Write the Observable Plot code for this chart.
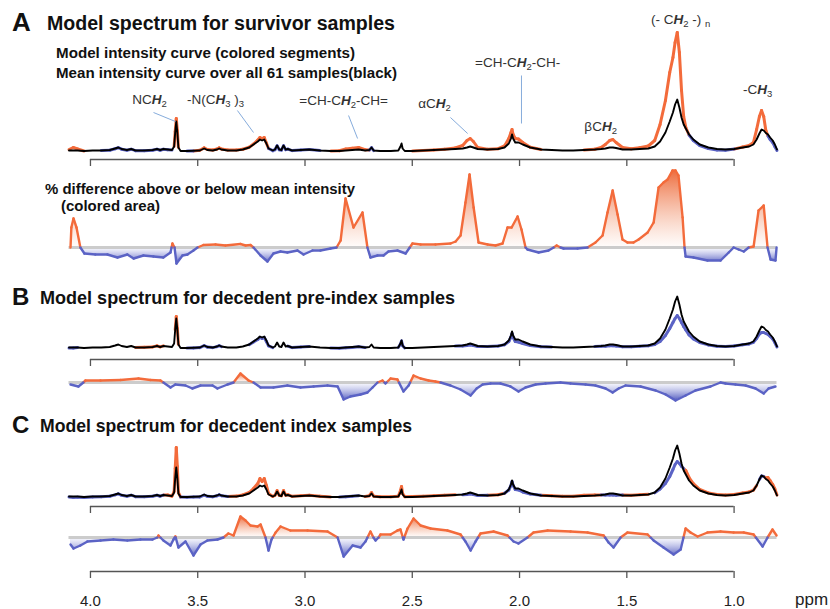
<!DOCTYPE html>
<html><head><meta charset="utf-8">
<script src="https://cdn.jsdelivr.net/npm/d3@7"></script>
<script src="https://cdn.jsdelivr.net/npm/@observablehq/plot@0.6"></script>
<style>
html,body{margin:0;padding:0;background:#fff;}
#chart{position:relative;width:830px;height:609px;overflow:hidden;font-family:"Liberation Sans",Arial,sans-serif;background:#fff;}
#chart > svg{position:absolute;left:0;}
</style></head><body><div id="chart"></div>
<script>
const ORANGE = "#f36b3b", BLUE = "#5b63c5";

// ---------- spectra (shared ppm grid) ----------
const ppm = [4.10,4.08,4.06,4.03,3.99,3.95,3.91,3.885,3.87,3.855,
 3.83,3.81,3.79,3.75,3.71,3.69,3.675,3.66,3.64,3.62,
 3.61,3.605,3.60,3.595,3.59,3.58,3.55,3.52,3.49,3.47,
 3.455,3.43,3.41,3.40,3.39,3.36,3.32,3.29,3.26,3.24,
 3.22,3.21,3.20,3.19,3.18,3.17,3.15,3.14,3.13,3.12,
 3.11,3.10,3.09,3.08,3.06,3.02,2.98,2.93,2.88,2.84,
 2.81,2.78,2.75,2.72,2.70,2.69,2.68,2.65,2.60,2.565,
 2.555,2.55,2.545,2.535,2.50,2.45,2.40,2.35,2.30,2.265,
 2.245,2.23,2.215,2.195,2.15,2.10,2.07,2.05,2.04,2.035,
 2.03,2.02,2.005,1.985,1.95,1.90,1.85,1.80,1.75,1.70,
 1.65,1.62,1.60,1.58,1.565,1.55,1.52,1.48,1.44,1.40,
 1.37,1.345,1.32,1.30,1.285,1.275,1.265,1.255,1.245,1.235,
 1.225,1.21,1.19,1.16,1.12,1.08,1.04,1.00,0.96,0.93,
 0.91,0.895,0.882,0.872,0.862,0.852,0.842,0.832,0.82,0.81,
 0.80];
const meanIntensity = [2,2,2,1.5,2,2,2.5,4,5,3.5,
 2.5,3.5,2,2,2.5,3.5,2.5,3.5,3,2.5,
 6,20,31,20,5,1.5,1.5,1.7,2,4,
 2.5,2,3,4,3,2,2,3,5,8,
 11,13,12,13,9,4,2,3,7,3,
 2.5,7,3,3.5,2,2.5,3,2,1.5,1.5,
 2,2.5,3,2,2.5,5,2,1.5,1.5,2,
 6,9,4,1.5,1.5,2,2.5,3,3.5,4,
 5,6,5,3.5,3,3.5,5,9,14,18,
 14,10,10,8,5,3,2.5,2,2,2.5,
 3,3.5,4,5,5,4.5,3,3,3.5,4,
 6,11,20,31,40,48,53,45,35,28,
 24,18,13,8,5,3.5,3,3.5,5,6,
 8,13,19,23,22,19.5,18,15,12,8,
 3];
const modelA = [3,5,3.5,1.5,2,2,2.3,3.8,4.8,3.3,
 2.3,3.3,1.8,1.8,2.3,3.3,2.3,3.3,2.8,2.4,
 6,21,34,22,5,1.5,1.4,1.6,2.3,4.6,
 3,2.5,3.5,4.6,3.5,2.5,2.4,3.3,5.3,8.5,
 12.5,15,14,15,9.5,4,1.8,2.8,6.8,2.8,
 2.4,6.8,2.9,3.4,1.9,2.4,2.9,1.9,1.5,1.8,
 3.5,4.2,5,2.8,2.4,4.8,1.9,1.5,1.5,2,
 6,9,4,1.5,1.6,2.1,2.6,3.2,4.5,7,
 12,14,11,5,3.3,3.8,6.5,14,20,23,
 18,14,13.5,10,5.3,3,2.5,2,2,2.6,
 3.3,5,8,12,13,10,5,3.8,4.8,6.5,
 12,28,52,80,95,110,120,100,62,36,
 25,17.5,12,7,4,2.6,2.3,3.4,5.5,7,
 10,23,36,42,36,22,16.5,13,10,6,
 2];
const modelB = [1.5,1.5,2,1.5,2,2,2.5,4,5,3.5,
 2.5,3.5,2,2.2,2.6,3.6,2.6,3.6,3,2.5,
 6,20,33,21,5,1.5,1.4,1.6,1.9,3.8,
 2.4,1.9,2.9,3.8,2.9,2,2,3.1,4.8,7.5,
 10,12,11,12,8,3.7,1.9,3,7,3,
 2.5,7,3,3.4,1.9,2.4,2.9,2,1.5,1.3,
 1.7,2.1,2.7,2,2.4,5,2,1.5,1.5,2,
 5.5,8.5,3.8,1.5,1.5,2,2.5,3,3.4,3.6,
 4,4.5,4,3,2.9,3.4,4.8,8,12.5,16,
 12,8,7.5,6,4,2.8,2.5,2,2,2.5,
 3,3.2,3.3,3.8,3.8,3.5,2.7,2.8,3.3,3.7,
 5,8,14,21,27,31,34,31,27,23,
 19.5,14.5,10.5,7,4.6,3.3,2.9,3.4,4.8,5.6,
 7.2,11,15.5,17,17,16,15,13,10.5,7,
 2.5];
const modelC = [1.5,1,1.2,1,1.6,1.7,2.2,3.6,4.6,3.2,
 2.3,3.3,1.8,1.8,2.3,3.3,2.3,3.4,3.5,2.3,
 7,30,51,32,6,1.5,1.3,1.4,1.6,3.3,
 2.2,1.8,2.7,3.6,2.8,2,2.4,3.6,6,10,
 15,20,17,20,13,5,2,3.2,8,3.2,
 2.7,8,3.3,3.8,2.2,2.8,3.2,2.2,1.6,1.4,
 1.7,2.3,2.8,2.1,2.8,6,2.3,1.7,1.7,2.3,
 8,12,5,1.8,1.9,2.3,2.8,3.3,3.7,3.7,
 4,4.5,4,3,3.2,3.7,5.2,8.5,13,17,
 13,9,8.5,6.5,4.5,3.3,2.8,2.3,2.3,3.2,
 3.5,3.6,3.4,3.5,3.4,3.3,3.4,3.3,3.8,4.3,
 5.6,9.5,15,22,29,34,37,35,32,30,
 28,21,15,9,5.6,4,3.5,4,5.5,6.6,
 8.3,13,19,22.5,22,20.5,21,18,14,9.5,
 3.5];

// ---------- % difference curves ----------
const diffPpmA = [4.093,4.089,4.079,4.065,4.047,4.028,3.977,3.921,3.874,3.828,3.799,3.753,3.706,3.660,3.627,3.618,3.608,3.599,3.571,3.548,3.520,3.501,3.473,3.417,3.371,3.301,3.277,3.254,3.240,3.207,3.175,3.147,3.114,3.082,3.035,3.007,2.965,2.928,2.881,2.853,2.834,2.811,2.774,2.732,2.709,2.695,2.662,2.634,2.611,2.569,2.531,2.499,2.461,2.392,2.322,2.298,2.275,2.252,2.233,2.214,2.191,2.149,2.112,2.079,2.056,2.037,2.009,1.991,1.972,1.963,1.911,1.865,1.841,1.827,1.809,1.795,1.730,1.683,1.646,1.613,1.590,1.566,1.543,1.520,1.497,1.469,1.445,1.403,1.375,1.352,1.329,1.310,1.287,1.273,1.259,1.240,1.231,1.226,1.189,1.124,1.063,1.025,1.002,0.979,0.955,0.932,0.909,0.886,0.862,0.844,0.830,0.807,0.802];
const diffA = [0,20,29,20,0,-6,-7,-7,-10,-7,-11,-8,-9,-10,-5,4,0,-16,-8,-7,-3,0,2.5,3,2,3.5,2,2.5,0,-8,-14,-6,-4,-5,-3,-7,-3,-3,-1,0,7,49,20,35,0,-10,-8,-8,-4,-3,-6,4,3,3,4,6,12,45,73,40,5,3,2,4,20,20,31,18,0,-2,-5,-3,0,2,0,-1,-1,0,5,12,35,57,33,8,5,5,8,15,25,60,65,68,77,77,72,30,0,-9,-10,-13,-13,-5,0,-2,-4,0,1,37,42,0,-12,-13,0];
const diffPpmB = [4.093,4.056,4.033,4.023,3.953,3.860,3.776,3.720,3.674,3.660,3.627,3.604,3.557,3.525,3.487,3.431,3.408,3.361,3.333,3.301,3.263,3.240,3.207,3.147,3.082,3.021,2.960,2.895,2.848,2.820,2.788,2.741,2.709,2.685,2.662,2.639,2.625,2.601,2.569,2.541,2.517,2.494,2.461,2.424,2.392,2.368,2.322,2.275,2.228,2.200,2.172,2.135,2.089,2.042,2.005,1.972,1.925,1.879,1.809,1.762,1.692,1.646,1.599,1.566,1.538,1.506,1.436,1.366,1.319,1.273,1.226,1.180,1.110,1.063,1.040,0.993,0.946,0.900,0.862,0.839,0.807];
const diffB = [-2,-4,0,2,2,2.5,4,2.5,2,0,-5,-2,-3,-6,-3,-3,-6,-2,0,9,2,0,-5,-5,-3,-5,-4,-3,-4,-17,-14,-12,-10,-5,0,2,-1,4,3,-9,-3,7,4,2,1,0,-3,-7,-13,-6,-2,-1,-1,-4,-9,-5,-2,-1,0,-1,-2,-3,-6,-10,-6,-3,-4,-8,-12,-18,-13,-8,-4,0,-1,-2,-3,-6,-11,-6,-4];
const diffPpmC = [4.093,4.079,4.047,4.014,3.953,3.893,3.828,3.767,3.711,3.688,3.683,3.674,3.660,3.627,3.613,3.604,3.590,3.557,3.520,3.487,3.455,3.408,3.380,3.357,3.333,3.301,3.277,3.254,3.221,3.207,3.184,3.170,3.156,3.137,3.114,3.068,2.988,2.895,2.848,2.820,2.778,2.741,2.718,2.695,2.681,2.671,2.657,2.648,2.601,2.569,2.555,2.541,2.522,2.494,2.461,2.415,2.336,2.275,2.252,2.228,2.205,2.182,2.121,2.056,2.028,2.005,1.963,1.935,1.869,1.762,1.683,1.608,1.585,1.562,1.529,1.497,1.403,1.375,1.329,1.282,1.249,1.226,1.203,1.170,1.124,1.063,1.002,0.955,0.909,0.867,0.844,0.821,0.802];
const diffC = [-7,-11,-8,-4,-3,-2,-3,-2,-2,0,2,0,-3,-8,-2,1,-10,-4,-18,-7,-3,-2,0,4,2,21,17,12,11,13,0,-13,-2,5,11,7,7,6,0,-19,-8,-10,-4,6,0,-3,0,3,3,7,8,-2,9,19,12,9,7,3,-4,-13,-4,4,6,2,-4,-6,0,5,7,6,5,2,-5,-10,0,5,3,-3,-10,-17,-12,9,5,1,5,6,5,5,3,-9,0,8,2];

// ---------- axis ticks ----------
const axisTicks = [4.0, 3.5, 3.0, 2.5, 2.0, 1.5, 1.0];

// ---------- peak annotations (panel A) ----------
const annLabels = ["NC{H}_2", "-N(C{H}_3 )_3", "=CH-C{H}_2-CH=", "\u03b1C{H}_2", "=CH-C{H}_2-CH-", "\u03b2C{H}_2", "(- C{H}_2 -) _n", "-C{H}_3"];
const annPpm = [3.725, 3.417, 2.820, 2.396, 2.009, 1.622, 1.249, 0.890];
const annHeight = [53, 53, 52, 49, 90, 26, 133, 63];
const leadPpm1 = [3.706, 3.315, 2.797, 2.322, 1.991];
const leadH1 = [40, 42, 37, 35, 77];
const leadPpm2 = [3.604, 3.240, 2.755, 2.242, 1.991];
const leadH2 = [31, 20, 14, 19, 29];

[modelA, modelB, modelC, meanIntensity].forEach(a => console.assert(a.length === ppm.length, "len", a.length));
console.assert(diffA.length === diffPpmA.length && diffB.length === diffPpmB.length && diffC.length === diffPpmC.length, "diff len");

const W = 830, ML = 68.5, MR = 53.5;
const XDOM = [4.1, 0.8];
const STYLE = {background: "transparent", overflow: "visible", fontFamily: "'Liberation Sans', Arial, sans-serif"};
const chart = document.getElementById("chart");

function place(svg, top) { svg.style.position = "absolute"; svg.style.top = top + "px"; svg.style.left = "0px"; chart.appendChild(svg); return svg; }

function specSegments(model) {
  const pos = [], neg = [];
  for (let i = 0; i < ppm.length - 1; i++) {
    const d = (model[i] + model[i + 1]) - (meanIntensity[i] + meanIntensity[i + 1]);
    const s = {x1: ppm[i], y1: model[i], x2: ppm[i + 1], y2: model[i + 1]};
    if (d > 0.15) pos.push(s); else if (d < -0.15) neg.push(s);
  }
  return {pos, neg};
}

function spectrumPlot(model, cfg, extra = []) {
  const idx = d3.range(ppm.length);
  const {pos, neg} = specSegments(model);
  const height = cfg.base + cfg.gap + 12;
  return Plot.plot({
    width: W, height, marginLeft: ML, marginRight: MR, marginTop: 0, marginBottom: 12,
    x: {domain: XDOM}, y: {domain: [-cfg.gap, cfg.base], axis: null},
    style: STYLE,
    marks: [
      Plot.link(pos, {x1: "x1", y1: "y1", x2: "x2", y2: "y2", stroke: ORANGE, strokeWidth: 3, strokeLinecap: "round"}),
      Plot.link(neg, {x1: "x1", y1: "y1", x2: "x2", y2: "y2", stroke: BLUE, strokeWidth: 3, strokeLinecap: "round"}),
      Plot.line(idx, {x: i => ppm[i], y: i => meanIntensity[i], stroke: "#000", strokeWidth: 1.9, strokeLinejoin: "round"}),
      Plot.ruleY([-cfg.gap], {x1: 4.0, x2: 1.0, stroke: "#555", strokeWidth: 1.3}),
      Plot.axisX(axisTicks, {anchor: "bottom", tickSize: 7, tickFormat: () => "", stroke: "#555", strokeWidth: 1.3, label: null}),
      ...extra
    ]
  });
}

function augment(xs, vs) {
  const pts = [];
  for (let i = 0; i < xs.length; i++) {
    if (i > 0) {
      const a = vs[i - 1], b = vs[i];
      if ((a < 0 && b > 0) || (a > 0 && b < 0)) {
        const t = a / (a - b);
        pts.push({x: xs[i - 1] + t * (xs[i] - xs[i - 1]), v: 0});
      }
    }
    pts.push({x: xs[i], v: vs[i]});
  }
  return pts;
}

function diffPlot(xs, vs, cfg, id) {
  const pts = augment(xs, vs);
  const pos = [], neg = [];
  for (let i = 0; i < pts.length - 1; i++) {
    const s = pts[i].v + pts[i + 1].v;
    const seg = {x1: pts[i].x, y1: pts[i].v, x2: pts[i + 1].x, y2: pts[i + 1].v};
    if (s > 0) pos.push(seg); else if (s < 0) neg.push(seg);
  }
  const defs = () => {
    const d = d3.create("svg:defs");
    const gp = d.append("linearGradient").attr("id", id + "p").attr("x1", 0).attr("y1", 0).attr("x2", 0).attr("y2", 1);
    gp.append("stop").attr("offset", "0%").attr("stop-color", "#ec6534").attr("stop-opacity", 0.95);
    gp.append("stop").attr("offset", "100%").attr("stop-color", "#f3a07c").attr("stop-opacity", 0.03);
    const gn = d.append("linearGradient").attr("id", id + "n").attr("x1", 0).attr("y1", 0).attr("x2", 0).attr("y2", 1);
    gn.append("stop").attr("offset", "0%").attr("stop-color", "#9aa0e0").attr("stop-opacity", 0.03);
    gn.append("stop").attr("offset", "100%").attr("stop-color", "#4f58bd").attr("stop-opacity", 0.95);
    return d.node();
  };
  const height = cfg.hi - cfg.lo;
  return Plot.plot({
    width: W, height, marginLeft: ML, marginRight: MR, marginTop: 0, marginBottom: 0,
    x: {domain: XDOM, axis: null}, y: {domain: [cfg.lo, cfg.hi], axis: null},
    style: STYLE,
    marks: [
      defs,
      Plot.area(pts, {x1: "x", y1: 0, y2: d => Math.max(d.v, 0), fill: `url(#${id}p)`}),
      Plot.area(pts, {x1: "x", y1: 0, y2: d => Math.min(d.v, 0), fill: `url(#${id}n)`}),
      Plot.ruleY([0], {stroke: "#cccccc", strokeWidth: 3}),
      Plot.link(pos, {x1: "x1", y1: "y1", x2: "x2", y2: "y2", stroke: ORANGE, strokeWidth: 2.4, strokeLinecap: "round"}),
      Plot.link(neg, {x1: "x1", y1: "y1", x2: "x2", y2: "y2", stroke: BLUE, strokeWidth: 2.4, strokeLinecap: "round"})
    ]
  });
}

// Panel A
const annIdx = d3.range(annLabels.length), leadIdx = d3.range(leadPpm1.length);
const specA = spectrumPlot(modelA, {base: 152, gap: 7}, [
  Plot.link(leadIdx, {x1: i => leadPpm1[i], y1: i => leadH1[i], x2: i => leadPpm2[i], y2: i => leadH2[i], stroke: "#86acdc", strokeWidth: 1}),
  Plot.text(annIdx, {x: i => annPpm[i], y: i => annHeight[i], text: i => annLabels[i], fontSize: 13.5, fill: "#333", textAnchor: "middle"})
]);
place(specA, 0);
// rich text for chemical labels
specA.querySelectorAll('g[aria-label="text"] text').forEach(t => {
  const raw = t.textContent; t.textContent = "";
  const ns = "http://www.w3.org/2000/svg";
  let shift = 0;
  const add = (str, opts = {}) => {
    const ts = document.createElementNS(ns, "tspan");
    ts.textContent = str;
    const want = opts.sub ? 3 : 0;
    if (want !== shift) { ts.setAttribute("dy", want - shift); shift = want; }
    if (opts.sub) ts.setAttribute("font-size", "9.5");
    if (opts.bi) { ts.setAttribute("font-style", "italic"); ts.setAttribute("font-weight", "bold"); }
    t.appendChild(ts);
  };
  let buf = "";
  for (let k = 0; k < raw.length; k++) {
    const ch = raw[k];
    if (ch === "{") { if (buf) add(buf); buf = ""; const e = raw.indexOf("}", k); add(raw.slice(k + 1, e), {bi: true}); k = e; }
    else if (ch === "_") { if (buf) add(buf); buf = ""; add(raw[k + 1], {sub: true}); k++; }
    else buf += ch;
  }
  if (buf) add(buf);
});
place(diffPlot(diffPpmA, diffA, {lo: -23, hi: 82}, "gA"), 165);

// Panel B
place(spectrumPlot(modelB, {base: 84, gap: 10}), 265);
place(diffPlot(diffPpmB, diffB, {lo: -28, hi: 13}, "gB"), 369);

// Panel C
place(spectrumPlot(modelC, {base: 88, gap: 8}), 410);
place(diffPlot(diffPpmC, diffC, {lo: -33, hi: 25}, "gC"), 512);

// Bottom ppm axis
place(Plot.plot({
  width: W, height: 48, marginLeft: ML, marginRight: MR, marginTop: 0, marginBottom: 38,
  x: {domain: XDOM}, y: {domain: [0, 1], axis: null},
  style: STYLE,
  marks: [
    Plot.ruleY([0], {x1: 4.0, x2: 1.0, stroke: "#555", strokeWidth: 1.3}),
    Plot.axisX(axisTicks, {anchor: "bottom", tickSize: 7, tickPadding: 17, tickFormat: d => d.toFixed(1), fontSize: 15, stroke: "#555", strokeWidth: 1.3, fill: "#222", label: null})
  ]
}), 561);

// Titles and captions
const ov = d3.select(chart).append("svg").attr("width", 830).attr("height", 609)
  .style("position", "absolute").style("top", "0px").style("left", "0px")
  .attr("font-family", "'Liberation Sans', Arial, sans-serif").attr("fill", "#111");
const txt = (s, x, y, size, weight, len) => {
  const t = ov.append("text").attr("x", x).attr("y", y).attr("font-size", size).attr("font-weight", weight).text(s);
  if (len) t.attr("textLength", len).attr("lengthAdjust", "spacingAndGlyphs");
  return t;
};
txt("A", 12, 31, 26, "bold");
txt("Model spectrum for survivor samples", 47, 30, 19.5, "bold", 348);
txt("Model intensity curve (colored  segments)", 56, 58, 14, "bold", 299);
txt("Mean intensity curve  over all 61 samples(black)", 56, 78, 14, "bold", 341);
txt("% difference above or below mean intensity", 45, 194, 14.5, "bold", 310);
txt("(colored area)", 61, 211, 14.5, "bold", 99);
txt("B", 12, 305, 24, "bold");
txt("Model spectrum for decedent pre-index samples", 40, 304, 18, "bold", 415);
txt("C", 12, 433, 24, "bold");
txt("Model spectrum for decedent index samples", 40, 432, 18, "bold", 372);
txt("ppm", 795, 605, 17, "normal").attr("fill", "#222");
</script></body></html>
